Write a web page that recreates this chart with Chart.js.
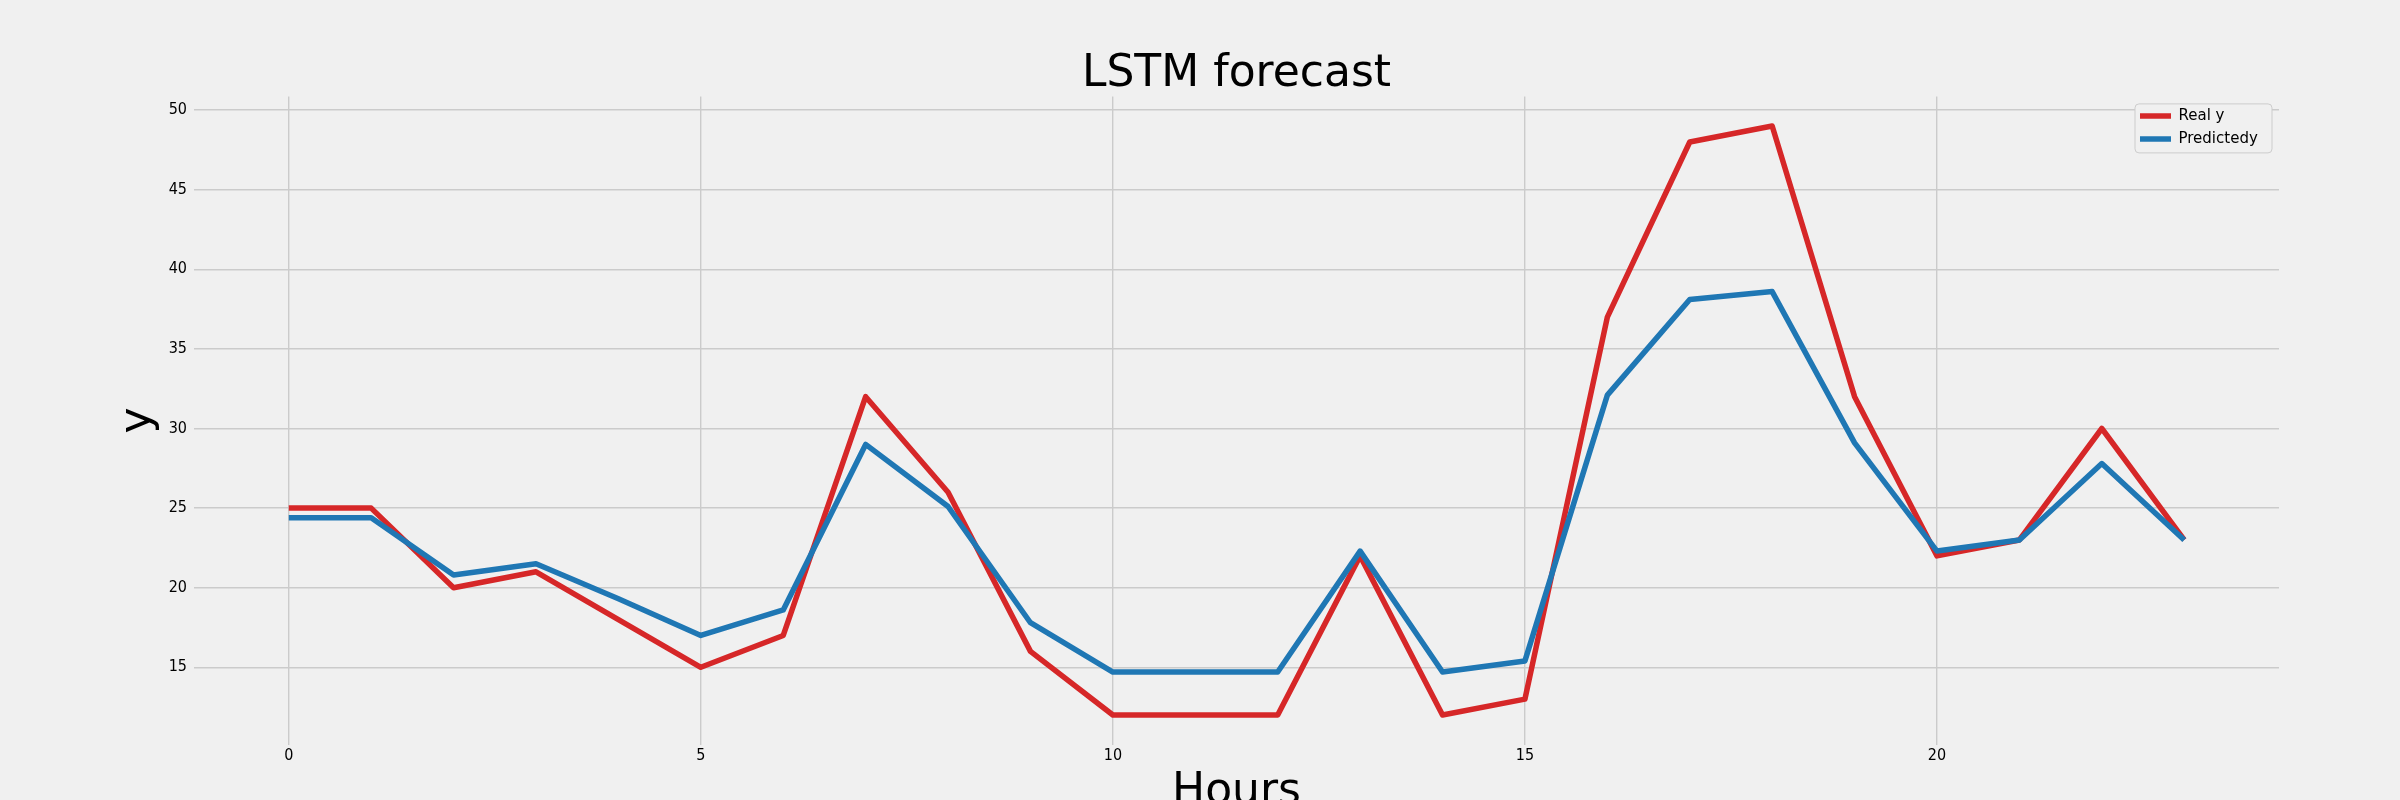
<!DOCTYPE html>
<html>
<head>
<meta charset="utf-8">
<title>LSTM forecast</title>
<script src="https://cdn.jsdelivr.net/npm/chart.js@4/dist/chart.umd.min.js"></script>
<style>
    html, body { margin: 0; padding: 0; background: #f0f0f0; overflow: hidden; }
    #wrap { width: 2400px; height: 800px; }
</style>
</head>
<body>
<div id="wrap"><canvas id="lstmChart" width="2400" height="800"></canvas></div>
<script>
// ====================================
// DATOS
// ====================================
const hours = [0, 1, 2, 3, 4, 5, 6, 7, 8, 9, 10, 11, 12, 13, 14, 15, 16, 17, 18, 19, 20, 21, 22, 23];
const realY = [25, 25, 20, 21, 18, 15, 17, 32, 26, 16, 12, 12, 12, 22, 12, 13, 37, 48, 49, 32, 22, 23, 30, 23];
const predictedY = [24.4, 24.4, 20.8, 21.5, 19.3, 17.0, 18.6, 29.0, 25.1, 17.8, 14.7, 14.7, 14.7, 22.3, 14.7, 15.4, 32.1, 38.1, 38.6, 29.1, 22.3, 23.0, 27.8, 23.0];
const xTicks = [0, 5, 10, 15, 20];
const yTicks = [15, 20, 25, 30, 35, 40, 45, 50];

const FONT = 'DejaVu Sans';
const GRID = '#cbcbcb';

// Pares x/y para la escala lineal
function toPoints(values) {
    return hours.map((h, i) => ({ x: h, y: values[i] }));
}

// Leyenda arriba a la derecha, con marco
const legendFrame = {
    id: 'legendFrame',
    afterLayout(chart) {
        const lg = chart.legend;
        const ca = chart.chartArea;
        const w = lg.width;
        lg.left = ca.right - 147;
        lg.right = lg.left + w;
        lg.top = ca.top + 3.8;
        lg.bottom = lg.top + 100;
    },
    beforeDatasetsDraw(chart) {
        const lg = chart.legend;
        const ctx = chart.ctx;
        ctx.save();
        ctx.beginPath();
        ctx.roundRect(lg.left + 3, lg.top + 3.5, 137, 49, 4);
        ctx.fillStyle = '#f0f0f0';
        ctx.fill();
        ctx.strokeStyle = '#cccccc';
        ctx.lineWidth = 1;
        ctx.stroke();
        ctx.restore();
        lg.draw();
    }
};

const tickFont = { family: FONT, size: 16, weight: 'condensed', lineHeight: 1 };

const ctx = document.getElementById('lstmChart').getContext('2d');
new Chart(ctx, {
    type: 'line',
    data: {
        datasets: [{
            label: 'Real y',
            data: toPoints(realY),
            borderColor: '#d62728',
            backgroundColor: '#d62728',
            borderWidth: 5.5,
            borderJoinStyle: 'round',
            pointRadius: 0,
            tension: 0,
            order: 1
        }, {
            label: 'Predictedy',
            data: toPoints(predictedY),
            borderColor: '#1f77b4',
            backgroundColor: '#1f77b4',
            borderWidth: 5.5,
            borderJoinStyle: 'round',
            pointRadius: 0,
            tension: 0,
            order: 0
        }]
    },
    options: {
        responsive: false,
        animation: false,
        layout: { padding: { left: 117, right: 121, top: 0, bottom: 0 } },
        plugins: {
            title: {
                display: true,
                fullSize: false,
                text: 'LSTM forecast',
                color: '#000',
                font: { family: FONT, size: 44, weight: 'normal', lineHeight: 1 },
                padding: { top: 53, bottom: -0.4 }
            },
            legend: {
                position: 'chartArea',
                align: 'start',
                labels: {
                    usePointStyle: true,
                    pointStyle: 'line',
                    pointStyleWidth: 31,
                    color: '#000',
                    font: { family: FONT, size: 15 },
                    padding: 8,
                    sort: (a, b) => a.datasetIndex - b.datasetIndex
                }
            },
            tooltip: { enabled: false }
        },
        scales: {
            x: {
                type: 'linear',
                min: -1.15,
                max: 24.15,
                afterBuildTicks: scale => { scale.ticks = xTicks.map(v => ({ value: v })); },
                afterFit: scale => { scale.height = 55.5; },
                grid: { color: GRID, lineWidth: 1.4, drawTicks: false },
                border: { display: false },
                ticks: { color: '#000', font: tickFont, padding: 3.5, maxRotation: 0 },
                title: {
                    display: true,
                    text: 'Hours',
                    color: '#000',
                    font: { family: FONT, size: 44, lineHeight: 1 },
                    padding: { top: 0, bottom: -15 }
                }
            },
            y: {
                type: 'linear',
                min: 10.15,
                max: 50.85,
                afterBuildTicks: scale => { scale.ticks = yTicks.map(v => ({ value: v })); },
                afterFit: scale => { scale.width = 77; },
                grid: { color: GRID, lineWidth: 1.4, drawTicks: false },
                border: { display: false },
                ticks: { color: '#000', font: tickFont, padding: 7 },
                title: {
                    display: true,
                    text: 'y',
                    color: '#000',
                    font: { family: FONT, size: 44, lineHeight: 1 },
                    padding: { top: 0, bottom: 0 }
                }
            }
        }
    },
    plugins: [legendFrame]
});
</script>
</body>
</html>
